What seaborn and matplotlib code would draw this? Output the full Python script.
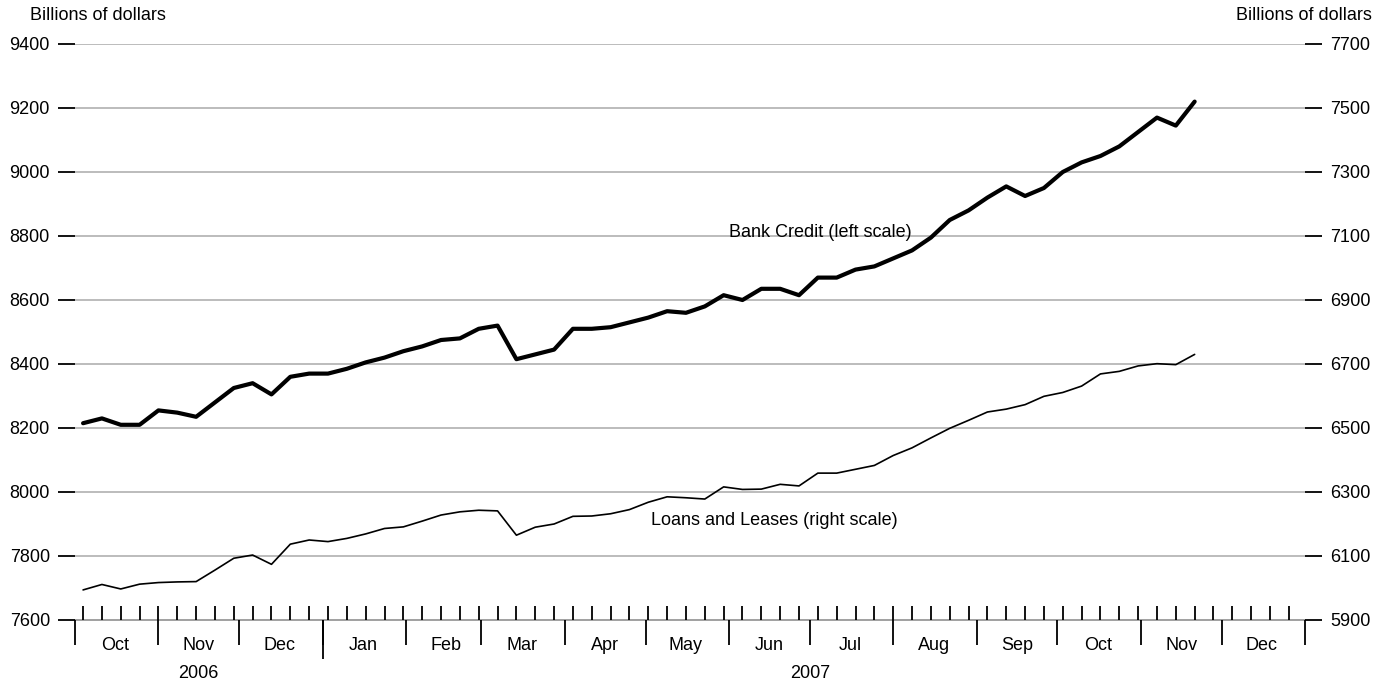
import matplotlib
matplotlib.use("Agg")
import matplotlib.pyplot as plt
import matplotlib.transforms as mtransforms
import seaborn as sns
import numpy as np
import pandas as pd

# weekly (Wednesday) observations, Oct 2006 - Nov 2007
dates = pd.date_range("2006-10-04", periods=60, freq="7D")

bank_credit = [
    8215, 8230, 8210, 8210, 8255, 8248, 8235, 8280, 8325, 8340,
    8305, 8360, 8370, 8370, 8385, 8405, 8420, 8440, 8455, 8475,
    8480, 8510, 8520, 8415, 8430, 8445, 8510, 8510, 8515, 8530,
    8545, 8565, 8560, 8580, 8615, 8600, 8635, 8635, 8615, 8670,
    8670, 8695, 8705, 8730, 8755, 8795, 8850, 8880, 8920, 8955,
    8925, 8950, 9000, 9030, 9050, 9080, 9125, 9170, 9145, 9220,
]

loans_leases = [
    5994, 6011, 5997, 6012, 6017, 6019, 6020, 6056, 6093, 6103,
    6074, 6137, 6150, 6145, 6155, 6169, 6186, 6191, 6209, 6228,
    6238, 6243, 6241, 6165, 6190, 6200, 6224, 6225, 6232, 6245,
    6268, 6285, 6282, 6278, 6316, 6308, 6309, 6324, 6319, 6359,
    6359, 6371, 6383, 6414, 6438, 6469, 6499, 6524, 6550, 6559,
    6573, 6599, 6611, 6631, 6669, 6677, 6694, 6701, 6698, 6730,
]

left_ticks = [7600, 7800, 8000, 8200, 8400, 8600, 8800, 9000, 9200, 9400]
right_ticks = [5900, 6100, 6300, 6500, 6700, 6900, 7100, 7300, 7500, 7700]

df = pd.DataFrame({"date": dates, "bank": bank_credit, "loans": loans_leases})

sns.set_theme(style="white")
plt.rcParams["font.family"] = ["Liberation Sans", "DejaVu Sans"]
plt.rcParams["text.color"] = "black"
plt.rcParams["xtick.labelcolor"] = "black"
plt.rcParams["ytick.labelcolor"] = "black"

FS = 13

fig = plt.figure(figsize=(13.76, 6.87), dpi=100)
ax = fig.add_axes([75 / 1376, 67 / 687, 1230 / 1376, 576 / 687])
ax2 = ax.twinx()

x0, x1 = pd.Timestamp("2006-10-01"), pd.Timestamp("2008-01-01")

sns.lineplot(data=df, x="date", y="bank", ax=ax, color="black", lw=3.0)
sns.lineplot(data=df, x="date", y="loans", ax=ax2, color="black", lw=1.2)

for a, ticks in ((ax, left_ticks), (ax2, right_ticks)):
    a.set_ylim(ticks[0], ticks[-1])
    a.set_yticks(ticks)
    a.set_ylabel("")
    a.set_xlabel("")
    for s in ("top", "left", "right", "bottom"):
        a.spines[s].set_visible(False)
ax.set_xlim(x0, x1)

for t in left_ticks[1:]:
    ax.axhline(t, color="#b0b0b0", lw=1.2, zorder=0)
ax.axhline(left_ticks[0], color="#909090", lw=1.2, zorder=0, clip_on=False)

ax.tick_params(axis="y", left=True, direction="out", length=12, width=1.3,
               color="black", labelsize=FS, pad=6)
ax2.tick_params(axis="y", right=True, direction="out", length=12, width=1.3,
                color="black", labelsize=FS, pad=6)

# month boundaries as major ticks, weekly Wednesdays as minor ticks
months = pd.date_range("2006-10-01", "2008-01-01", freq="MS")
weeks = pd.date_range("2006-10-04", "2007-12-31", freq="7D")
ax.xaxis.remove_overlapping_locs = False
ax.set_xticks(months)
ax.set_xticklabels([])
ax.set_xticks(weeks, minor=True)
ax.tick_params(axis="x", which="major", bottom=True, direction="out",
               length=18, width=1.3, color="black")
ax.tick_params(axis="x", which="minor", bottom=True, direction="in",
               length=10, width=1.3, color="black")

trans = mtransforms.blended_transform_factory(ax.transData, ax.transAxes)
ax.vlines(pd.Timestamp("2007-01-01"), -0.068, 0, transform=trans,
          color="black", lw=1.3, clip_on=False)

for m in months[:-1]:
    mid = m + pd.Timedelta(days=15)
    ax.text(mid, -0.045, m.strftime("%b"), transform=trans, ha="center",
            va="center", fontsize=FS)
ax.text(pd.Timestamp("2006-11-16"), -0.093, "2006", transform=trans,
        ha="center", va="center", fontsize=FS)
ax.text(pd.Timestamp("2007-07-01"), -0.093, "2007", transform=trans,
        ha="center", va="center", fontsize=FS)

ax.text(pd.Timestamp("2007-06-01"), 8810, "Bank Credit (left scale)",
        fontsize=FS, va="center")
ax2.text(pd.Timestamp("2007-05-03"), 6210, "Loans and Leases (right scale)",
         fontsize=FS, va="center")

fig.text(30 / 1376, 1 - 15 / 687, "Billions of dollars", fontsize=FS,
         va="center", ha="left")
fig.text(1372 / 1376, 1 - 15 / 687, "Billions of dollars", fontsize=FS,
         va="center", ha="right")

fig.savefig("out.png", dpi=100, facecolor="white")
